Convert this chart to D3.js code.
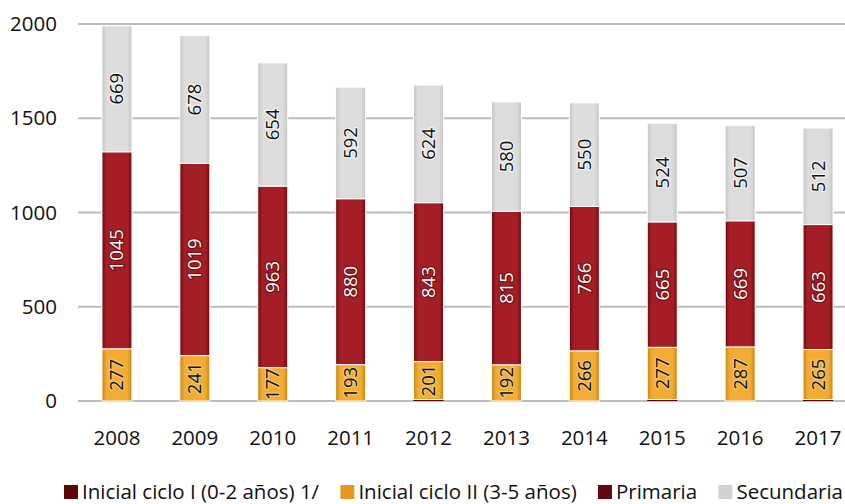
<!DOCTYPE html>
<html>
<head>
<meta charset="utf-8">
<script src="https://cdn.jsdelivr.net/npm/d3@7"></script>
<style>
  body { margin: 0; background: #fff; }
  svg { display: block; font-family: "Open Sans", sans-serif; }
</style>
</head>
<body>
<div id="container"></div>
<script>
// values
const years = ["2008", "2009", "2010", "2011", "2012", "2013", "2014", "2015", "2016", "2017"];
const cicloI = [0, 0, 0, 0, 8, 0, 0, 8, 0, 8];
const cicloII = [277, 241, 177, 193, 201, 192, 266, 277, 287, 265];
const primaria = [1045, 1019, 963, 880, 843, 815, 766, 665, 669, 663];
const secundaria = [669, 678, 654, 592, 624, 580, 550, 524, 507, 512];
const yTicks = [0, 500, 1000, 1500, 2000];

const seriesNames = ["Inicial ciclo I (0-2 años) 1/", "Inicial ciclo II (3-5 años)", "Primaria", "Secundaria"];
const keys = ["c1", "c2", "pri", "sec"];

const W = 845, H = 504;

const rows = years.map((y, i) => ({
    year: y, c1: cicloI[i], c2: cicloII[i], pri: primaria[i], sec: secundaria[i]
}));

const svg = d3.select("#container").append("svg")
    .attr("width", W).attr("height", H);

const x = d3.scaleBand().domain(years).range([78, 857]).paddingInner(0.615).paddingOuter(0.3075);
const y = d3.scaleLinear().domain([0, 2000]).range([401, 24]);

// horizontal shading like the original bars
const shades = {
    c1:  ["#3c0000", "#5e0808"],
    c2:  ["#c7850f", "#f2ab33"],
    pri: ["#6e0a10", "#a61e25"],
    sec: ["#c4c4c4", "#dcdcdc"]
};
const defs = svg.append("defs");
keys.forEach(k => {
    const g = defs.append("linearGradient").attr("id", "g-" + k)
        .attr("x1", "0").attr("x2", "1").attr("y1", "0").attr("y2", "0");
    g.append("stop").attr("offset", "0").attr("stop-color", shades[k][0]);
    g.append("stop").attr("offset", "0.15").attr("stop-color", shades[k][1]);
    g.append("stop").attr("offset", "0.85").attr("stop-color", shades[k][1]);
    g.append("stop").attr("offset", "1").attr("stop-color", shades[k][0]);
});

// grid
svg.append("g").selectAll("line")
    .data(yTicks)
    .enter().append("line")
    .attr("x1", 78).attr("x2", W)
    .attr("y1", d => y(d)).attr("y2", d => y(d))
    .attr("stroke", "#bdbdbd").attr("stroke-width", 2);

// y labels
svg.append("g").selectAll("text")
    .data(yTicks)
    .enter().append("text")
    .attr("x", 57).attr("y", d => y(d))
    .attr("dy", "0.35em")
    .attr("text-anchor", "end")
    .attr("font-size", 20.5)
    .attr("fill", "#111")
    .text(d => d);

const stacked = d3.stack().keys(keys)(rows);

const layer = svg.append("g").selectAll("g")
    .data(stacked)
    .enter().append("g")
    .attr("fill", d => "url(#g-" + d.key + ")");

layer.selectAll("rect")
    .data(d => d)
    .enter().append("rect")
    .attr("x", d => x(d.data.year))
    .attr("width", x.bandwidth())
    .attr("y", d => y(d[1]))
    .attr("height", d => y(d[0]) - y(d[1]))
    .attr("stroke", "#fff")
    .attr("stroke-width", d => (d[1] - d[0]) > 50 ? 1 : 0);

// value labels, rotated
const labelColor = { c2: "#111", pri: "#fff", sec: "#111" };
const haloColor = { c2: "#f7d48a", pri: "#5a0a0e", sec: "#ffffff" };

stacked.filter(s => s.key !== "c1").forEach(s => {
    svg.append("g").selectAll("text")
        .data(s)
        .enter().append("text")
        .attr("transform", d => {
            const cx = x(d.data.year) + x.bandwidth() / 2;
            const cy = (y(d[0]) + y(d[1])) / 2;
            return "translate(" + cx + "," + cy + ") rotate(-90)";
        })
        .attr("text-anchor", "middle")
        .attr("dy", "0.35em")
        .attr("font-size", 18.5)
        .attr("fill", labelColor[s.key])
        .attr("stroke", haloColor[s.key])
        .attr("stroke-width", 2.5)
        .attr("stroke-opacity", 0.7)
        .attr("paint-order", "stroke")
        .text(d => d[1] - d[0]);
});

// x labels
svg.append("g").selectAll("text")
    .data(years)
    .enter().append("text")
    .attr("x", d => x(d) + x.bandwidth() / 2)
    .attr("y", 438)
    .attr("dy", "0.35em")
    .attr("text-anchor", "middle")
    .attr("font-size", 20.5)
    .attr("fill", "#111")
    .text(d => d);

// legend, laid out from the measured text widths
const legendFill = ["#5a0808", "#e39a1f", "#5e0a0e", "#d0d0d0"];
const legend = svg.append("g").selectAll("g")
    .data(seriesNames)
    .enter().append("g");

legend.append("rect")
    .attr("x", 0).attr("y", -7)
    .attr("width", 14).attr("height", 14)
    .attr("fill", (d, i) => legendFill[i]);

legend.append("text")
    .attr("x", 18).attr("dy", "0.35em")
    .attr("font-size", 20.5)
    .attr("fill", "#111")
    .text(d => d);

const widths = [];
legend.select("text").each(function() { widths.push(18 + this.getComputedTextLength()); });
const gap = (843 - 64 - d3.sum(widths)) / (widths.length - 1);
let lx = 64;
legend.attr("transform", (d, i) => {
    const t = "translate(" + lx + ",492)";
    lx += widths[i] + gap;
    return t;
});
</script>
</body>
</html>
